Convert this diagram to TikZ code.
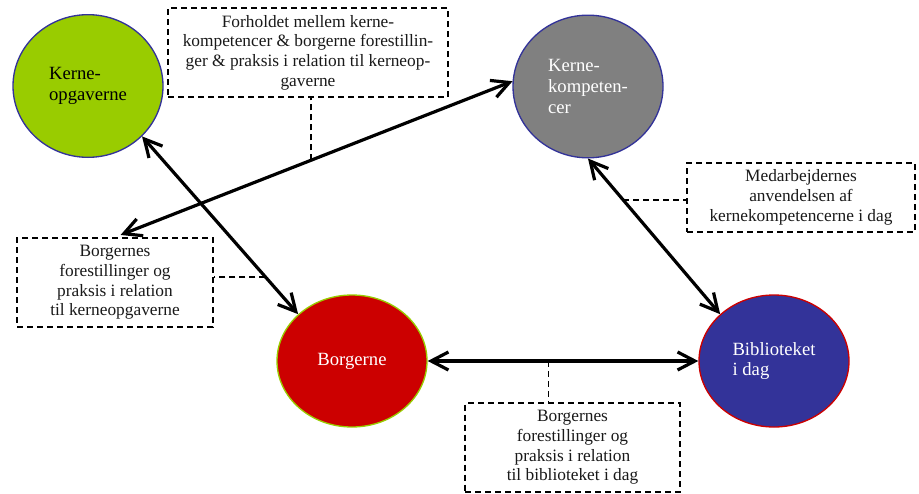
\documentclass[tikz,border=0pt]{standalone}
\usepackage{fontspec}
\setmainfont{Liberation Serif}
\usetikzlibrary{arrows.meta,shapes.geometric}
\definecolor{opggreen}{HTML}{99CC00}
\definecolor{kantblue}{HTML}{333399}
\definecolor{kompgray}{HTML}{808080}
\definecolor{borgred}{HTML}{CC0000}
\definecolor{biblblue}{HTML}{333399}

\begin{document}
\begin{tikzpicture}
  [x=0.75pt,y=-0.75pt,>={Straight Barb[length=13pt,width=13.5pt]},
  font=\fontsize{13}{14.8}\selectfont,
	topic node/.style={ellipse,draw,line width=1pt,inner sep=0pt,
  minimum width=112.5pt,minimum height=107pt,align=left,
  font=\fontsize{14}{15.5}\selectfont},
	note node/.style={draw,dash pattern=on 4.5pt off 3pt,line width=1.3pt,
  align=center,inner sep=0pt,text=black!90},
	leader/.style={dash pattern=on 4.5pt off 3pt,line width=1.3pt}]

  \useasboundingbox (0,0) rectangle (919,493);

  \node[topic node,fill=opggreen,draw=kantblue] (KO) at (88,86) {Kerne-\\opgaverne};
  \node[topic node,fill=kompgray,draw=kantblue,text=white] (KK) at (588,86.5) {Kerne-\\kompeten-\\cer};
  \node[topic node,fill=borgred,draw=opggreen,text=white,minimum height=99pt] (BO) at (352,361) {Borgerne};
  \node[topic node,fill=biblblue,draw=borgred,text=white,minimum height=99pt] (BI) at (774,361) {Biblioteket\\i dag};

  \node[note node,minimum width=210pt,minimum height=66.75pt] (N1) at (308,52.5)
    {Forholdet mellem kerne-\\kompetencer \& borgerne forestillin-\\ger \& praksis i relation til kerneop-\\gaverne};
  \node[note node,minimum width=147pt,minimum height=66.75pt] (N2) at (115,282.5)
    {Borgernes\\forestillinger og\\praksis i relation\\til kerneopgaverne};
  \node[note node,minimum width=171pt,minimum height=51.75pt] (N3) at (801,197.5)
    {Medarbejdernes\\anvendelsen af\\kernekompetencerne i dag};
  \node[note node,minimum width=161pt,minimum height=66.75pt] (N4) at (572.5,447.5)
    {Borgernes\\forestillinger og\\praksis i relation\\til biblioteket i dag};

  \path[<->,line width=2.4pt]
    (KO.-43) edge node[coordinate,pos=0.79] (m1) {} (BO.139)
    (KK.176) edge[shorten >=4.5pt] node[coordinate,pos=0.5075] (m2) {} (N2.north)
    (KK.south) edge node[coordinate,pos=0.268] (m3) {} (BI.139)
    (BO.east) edge node[coordinate,pos=0.446] (m4) {} (BI.west);

  \draw[leader] (m2) -- (m2 |- N1.south);
  \draw[leader] (m1) -- (m1 -| N2.east);
  \draw[leader] (m3) -- (m3 -| N3.west);
  \draw[leader] (m4) -- (m4 |- N4.north);
\end{tikzpicture}
\end{document}
